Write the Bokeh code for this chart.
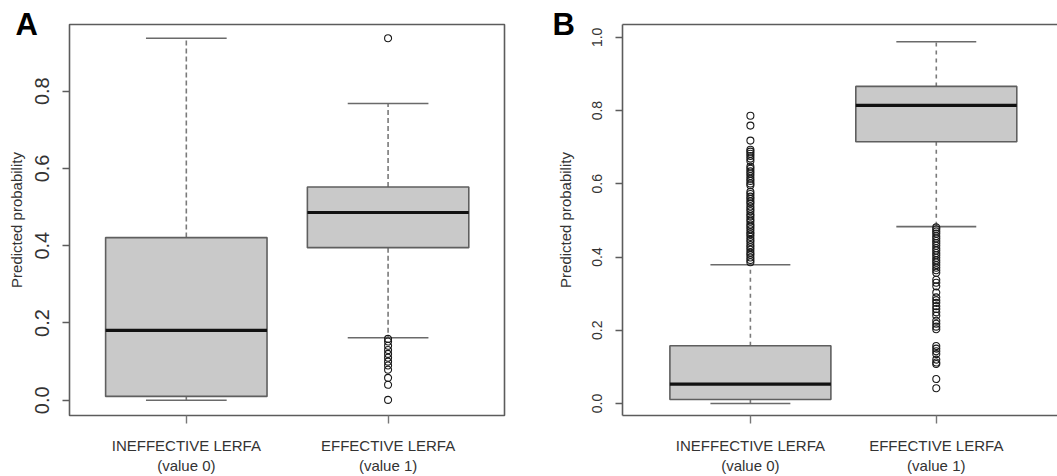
from bokeh.plotting import figure
from bokeh.layouts import row
from bokeh.models import Range1d, FixedTicker, LinearAxis, ColumnDataSource
from bokeh.embed import file_html
from bokeh.resources import INLINE

# ---------------- data ----------------
categories = ["INEFFECTIVE LERFA\n(value 0)", "EFFECTIVE LERFA\n(value 1)"]
positions = [1, 2]

# Panel A box statistics (per category)
a_low = [0.000, 0.162]
a_q1 = [0.010, 0.395]
a_median = [0.181, 0.486]
a_q3 = [0.421, 0.552]
a_high = [0.937, 0.768]
a_outliers_0 = []
a_outliers_1 = [0.937, 0.159, 0.152, 0.141, 0.130, 0.120, 0.110, 0.100,
                0.090, 0.079, 0.058, 0.040, 0.001]

# Panel B box statistics (per category)
b_low = [0.000, 0.483]
b_q1 = [0.011, 0.715]
b_median = [0.053, 0.814]
b_q3 = [0.158, 0.866]
b_high = [0.379, 0.988]
b_outliers_0 = [0.786, 0.759, 0.718, 0.693, 0.688, 0.682, 0.676, 0.669,
                0.662, 0.647, 0.641, 0.634, 0.628, 0.621, 0.614, 0.608,
                0.601, 0.596, 0.578, 0.572, 0.565, 0.559, 0.552, 0.546,
                0.538, 0.531, 0.525, 0.517, 0.511, 0.503, 0.497, 0.489,
                0.483, 0.476, 0.468, 0.462, 0.455, 0.447, 0.441, 0.433,
                0.427, 0.420, 0.412, 0.406, 0.399, 0.392, 0.386]
b_outliers_1 = [0.481, 0.476, 0.470, 0.464, 0.457, 0.451, 0.444, 0.438,
                0.431, 0.424, 0.418, 0.411, 0.405, 0.398, 0.391, 0.385,
                0.378, 0.371, 0.364, 0.357, 0.338, 0.330, 0.320, 0.303,
                0.290, 0.282, 0.275, 0.266, 0.258, 0.249, 0.240, 0.226,
                0.218, 0.210, 0.203, 0.157, 0.150, 0.143, 0.135, 0.120,
                0.112, 0.108, 0.067, 0.042]

a_yticks = [0.0, 0.2, 0.4, 0.6, 0.8]
a_ytick_labels = ["0.0", "0.2", "0.4", "0.6", "0.8"]
b_yticks = [0.0, 0.2, 0.4, 0.6, 0.8, 1.0]
b_ytick_labels = ["0.0", "0.2", "0.4", "0.6", "0.8", "1.0"]
y_title = "Predicted probability"
panel_letters = ["A", "B"]

FONT = "Liberation Sans"
FRAME = "#5c5c5c"
TXT = "#333333"


def make_panel(letter, low, q1, med, q3, high, outs, yticks, ylabels,
               xr, yr, box_w, cap_w, width, borders, tick_font, ystand,
               ylab_stand, letter_offset, dash, closed):
    bl, br, bt, bb = borders
    p = figure(width=width, height=476, x_range=Range1d(*xr), y_range=Range1d(*yr),
               output_backend="svg", toolbar_location=None,
               min_border_left=bl, min_border_right=br,
               min_border_top=bt, min_border_bottom=bb,
               background_fill_color="white", border_fill_color="white")
    p.xgrid.visible = False
    p.ygrid.visible = False
    if closed:
        p.outline_line_color = FRAME
        p.outline_line_width = 1.6
    else:
        p.outline_line_color = None

    # panel letter as title
    p.title.text = letter
    p.title.align = "left"
    p.title.offset = letter_offset
    p.title.text_font = FONT
    p.title.text_font_size = "31px"
    p.title.text_font_style = "bold"
    p.title.text_color = "#000000"
    p.title.vertical_align = "bottom"
    p.title.standoff = -35

    src = ColumnDataSource(dict(
        x=positions,
        xl=[x - box_w / 2 for x in positions],
        xr=[x + box_w / 2 for x in positions],
        cl=[x - cap_w / 2 for x in positions],
        cr=[x + cap_w / 2 for x in positions],
        low=low, q1=q1, med=med, q3=q3, high=high))

    # whiskers (dashed)
    p.segment(x0="x", y0="q3", x1="x", y1="high", source=src,
              line_color="#7a7a7a", line_width=1.6, line_dash=dash)
    p.segment(x0="x", y0="q1", x1="x", y1="low", source=src,
              line_color="#7a7a7a", line_width=1.6, line_dash=dash)
    # caps
    p.segment(x0="cl", y0="high", x1="cr", y1="high", source=src,
              line_color="#6a6a6a", line_width=1.6)
    p.segment(x0="cl", y0="low", x1="cr", y1="low", source=src,
              line_color="#6a6a6a", line_width=1.6)
    # boxes
    p.quad(left="xl", right="xr", bottom="q1", top="q3", source=src,
           fill_color="#c9c9c9", line_color="#5f5f5f", line_width=1.6)
    # medians
    p.segment(x0="xl", y0="med", x1="xr", y1="med", source=src,
              line_color="#111111", line_width=3.2)
    # outliers
    ox, oy = [], []
    for pos, vals in zip(positions, outs):
        ox += [pos] * len(vals)
        oy += list(vals)
    p.scatter(ox, oy, marker="circle", size=7, fill_color=None,
              line_color="#1a1a1a", line_width=1.1)

    # axes
    xa = p.xaxis[0]
    xa.ticker = FixedTicker(ticks=positions)
    xa.major_label_overrides = {pos: lab for pos, lab in zip(positions, categories)}
    xa.major_label_text_font = FONT
    xa.major_label_text_font_size = "15px"
    xa.major_label_text_color = TXT
    xa.major_tick_out = 8
    xa.major_tick_in = 0
    xa.minor_tick_out = 0
    xa.minor_tick_in = 0
    xa.major_tick_line_color = "#777777"
    xa.major_tick_line_width = 1.4
    xa.major_label_standoff = 13

    ya = p.yaxis[0]
    ya.ticker = FixedTicker(ticks=yticks)
    ya.major_label_overrides = {t: lab for t, lab in zip(yticks, ylabels)}
    ya.major_label_orientation = "vertical"
    ya.major_label_text_font = FONT
    ya.major_label_text_font_size = tick_font
    ya.major_label_text_color = TXT
    ya.major_tick_out = 7
    ya.major_tick_in = 0
    ya.minor_tick_out = 0
    ya.minor_tick_in = 0
    ya.major_tick_line_color = FRAME
    ya.major_tick_line_width = 1.4
    ya.major_label_standoff = ystand
    ya.axis_label = y_title
    ya.axis_label_text_font = FONT
    ya.axis_label_text_font_style = "normal"
    ya.axis_label_text_font_size = "15px"
    ya.axis_label_text_color = TXT
    ya.axis_label_standoff = ylab_stand

    if closed:
        xa.axis_line_color = None
        ya.axis_line_color = None
    else:
        xa.axis_line_color = FRAME
        xa.axis_line_width = 1.6
        ya.axis_line_color = FRAME
        ya.axis_line_width = 1.6
        top = LinearAxis(major_tick_out=0, major_tick_in=0, minor_tick_out=0,
                         minor_tick_in=0, major_label_text_font_size="0px",
                         axis_line_color=FRAME, axis_line_width=1.6,
                         ticker=FixedTicker(ticks=[]))
        p.add_layout(top, "above")
    return p


pA = make_panel(panel_letters[0], a_low, a_q1, a_median, a_q3, a_high,
                [a_outliers_0, a_outliers_1], a_yticks, a_ytick_labels,
                xr=(0.421, 2.577), yr=(-0.0394, 0.9725), box_w=0.8, cap_w=0.4,
                width=530, borders=(69, 26, 24, 59), tick_font="20px",
                ystand=13, ylab_stand=8, letter_offset=-54, dash="5 3",
                closed=True)

pB = make_panel(panel_letters[1], b_low, b_q1, b_median, b_q3, b_high,
                [b_outliers_0, b_outliers_1], b_yticks, b_ytick_labels,
                xr=(0.312, 2.652), yr=(-0.0326, 1.035), box_w=0.866, cap_w=0.43,
                width=527, borders=(92, 0, 24, 59), tick_font="14px",
                ystand=13, ylab_stand=16, letter_offset=-70, dash="4 4",
                closed=False)

layout = row(pA, pB)
open("out.html", "w").write(file_html(layout, INLINE))
